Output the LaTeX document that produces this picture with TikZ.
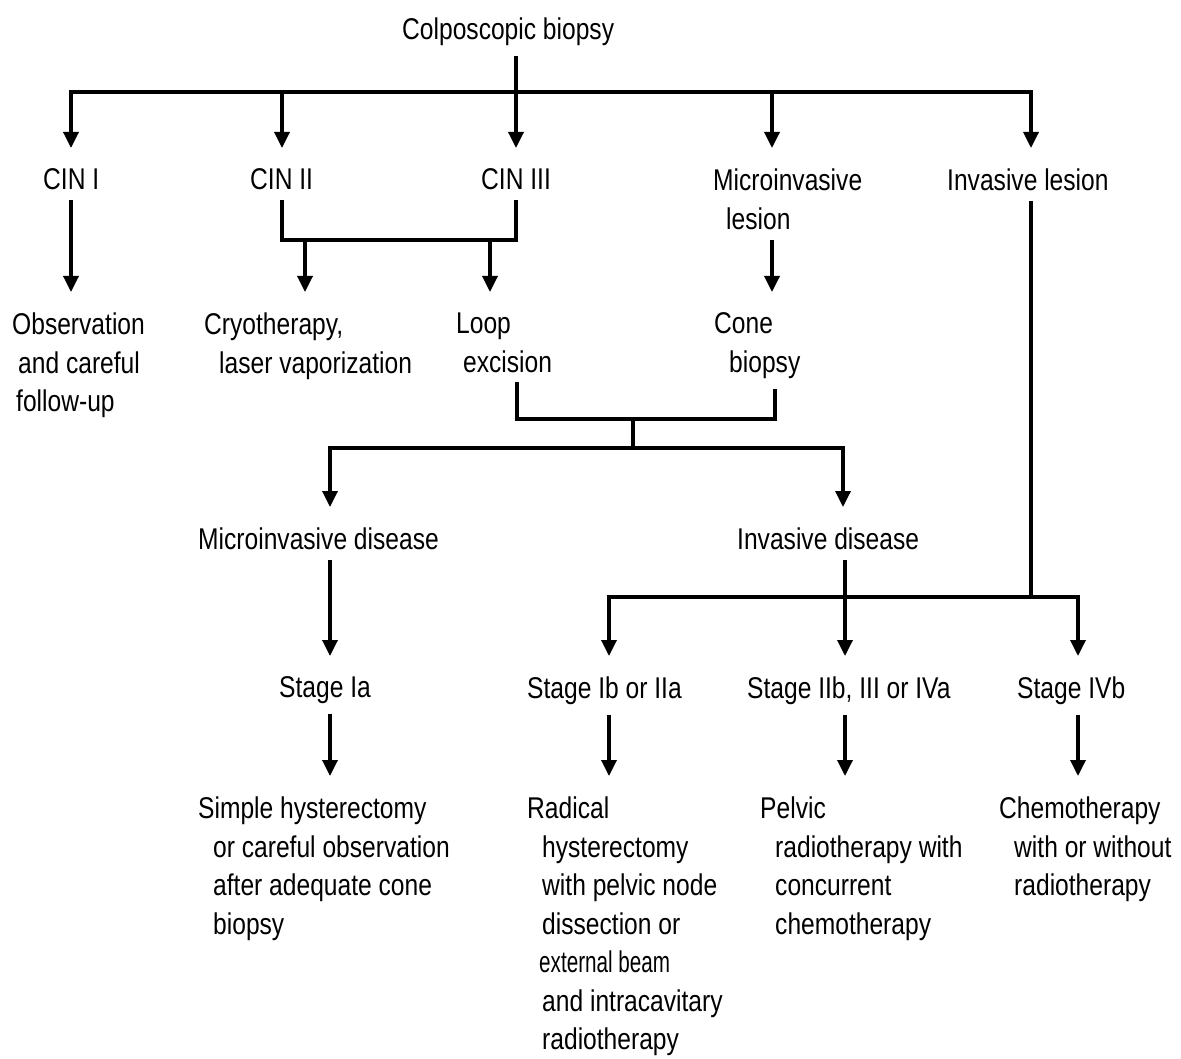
\documentclass[tikz,border=0pt]{standalone}
\usepackage{graphicx}
\usepackage{fontspec}
\setmainfont{Liberation Sans}[FakeStretch=0.82]
\usepackage{tikz}
\usetikzlibrary{arrows.meta,calc}

\tikzset{
  lbl/.style={inner sep=0pt, outer ysep=10pt, align=left, anchor=north west,
    font=\fontsize{30}{38.5}\selectfont},
  ln/.style={line width=3.4pt},
  arr/.style={line width=3.4pt, -{Triangle[width=15pt,length=16pt]}, shorten >=11pt},
}
\newcommand{\ind}{\hspace*{15pt}}

\begin{document}
\begin{tikzpicture}[x=1pt,y=-1pt]
  \path[use as bounding box, fill=white] (0,0) rectangle (1181,1059);

  \node[lbl] (colpo) at (402,8) {Colposcopic biopsy};

  \node[lbl] (cin1) at (43,159) {CIN I};
  \node[lbl] (cin2) at (250,159) {CIN II};
  \node[lbl] (cin3) at (481,159) {CIN III};
  \node[lbl] (mil) at (713,159) {Microinvasive\\\hspace*{13pt}lesion};
  \node[lbl] (invl) at (947,159) {Invasive lesion};

  \node[lbl] (obs) at (12,303) {Observation\\\hspace*{6pt}and careful\\\hspace*{4pt}follow-up};
  \node[lbl] (cryo) at (204,303) {Cryotherapy,\\\ind laser vaporization};
  \node[lbl] (loop) at (456,303) {Loop\\\hspace*{7pt}excision};
  \node[lbl] (cone) at (714,303) {Cone\\\ind biopsy};

  \node[lbl] (mid) at (198,518) {Microinvasive disease};
  \node[lbl] (invd) at (737,518) {Invasive disease};

  \node[lbl] (stIa) at (279,667) {Stage Ia};
  \node[lbl] (stIb) at (527,667) {Stage Ib or IIa};
  \node[lbl] (stIIb) at (747,667) {Stage IIb, III or IVa};
  \node[lbl] (stIVb) at (1017,667) {Stage IVb};

  \node[lbl] (simple) at (198,787) {Simple hysterectomy\\\ind or careful observation\\\ind after adequate cone\\\ind biopsy};
  \node[lbl] (radical) at (527,787) {Radical\\\ind hysterectomy\\\ind with pelvic node\\\ind dissection or\\\hspace*{12pt}\scalebox{0.84}[1]{external beam}\\\ind and intracavitary\\\ind radiotherapy};
  \node[lbl] (pelvic) at (760,787) {Pelvic\\\ind radiotherapy with\\\ind concurrent\\\ind chemotherapy};
  \node[lbl] (chemo) at (999,787) {Chemotherapy\\\ind with or without\\\ind radiotherapy};

  \coordinate (bus1) at (516,92);
  \coordinate (j23) at (400,240);
  \coordinate (j45) at (633,419);
  \coordinate (bus2) at (633,448);
  \coordinate (bus3) at (1031,597);
  \coordinate (cryoin) at ($(cryo.north west)+(101,0)$);
  \coordinate (loopin) at ($(loop.north west)+(34,0)$);

  \draw[ln] ($(colpo.south west)+(114,0)$) -- (bus1);
  \draw[arr] (bus1) -| ($(cin1.north west)+(28,0)$);
  \draw[arr] (bus1) -| ($(cin2.north west)+(32,0)$);
  \draw[arr] (bus1) -| ($(cin3.north west)+(35,0)$);
  \draw[arr] (bus1) -| ($(mil.north west)+(59,0)$);
  \draw[arr] (bus1) -| ($(invl.north west)+(84,0)$);

  \draw[arr] ($(cin1.south west)+(28,0)$) -- ($(obs.north west)+(59,0)$);
  \draw[ln] ($(cin2.south west)+(32,0)$) |- (j23) -| ($(cin3.south west)+(35,0)$);
  \draw[arr] (cryoin |- j23) -- (cryoin);
  \draw[arr] (loopin |- j23) -- (loopin);
  \draw[arr] ($(mil.south west)+(59,0)$) -- ($(cone.north west)+(58,0)$);

  \draw[ln] ($(loop.south west)+(61,0)$) |- (j45) -| ($(cone.south west)+(61,0)$);
  \draw[ln] (j45) -- (bus2);
  \draw[arr] (bus2) -| ($(mid.north west)+(132,0)$);
  \draw[arr] (bus2) -| ($(invd.north west)+(106,0)$);

  \draw[ln] ($(invl.south west)+(84,0)$) -- (bus3);
  \draw[arr] (bus3) -| ($(stIb.north west)+(82,0)$);
  \draw[arr] (bus3) -| ($(stIVb.north west)+(61,0)$);
  \draw[arr] ($(invd.south west)+(108,0)$) -- ($(stIIb.north west)+(98,0)$);
  \draw[arr] ($(mid.south west)+(132,0)$) -- ($(stIa.north west)+(51,0)$);

  \draw[arr] ($(stIa.south west)+(51,0)$) -- ($(simple.north west)+(132,0)$);
  \draw[arr] ($(stIb.south west)+(82,0)$) -- ($(radical.north west)+(82,0)$);
  \draw[arr] ($(stIIb.south west)+(98,0)$) -- ($(pelvic.north west)+(85,0)$);
  \draw[arr] ($(stIVb.south west)+(61,0)$) -- ($(chemo.north west)+(79,0)$);
\end{tikzpicture}
\end{document}
